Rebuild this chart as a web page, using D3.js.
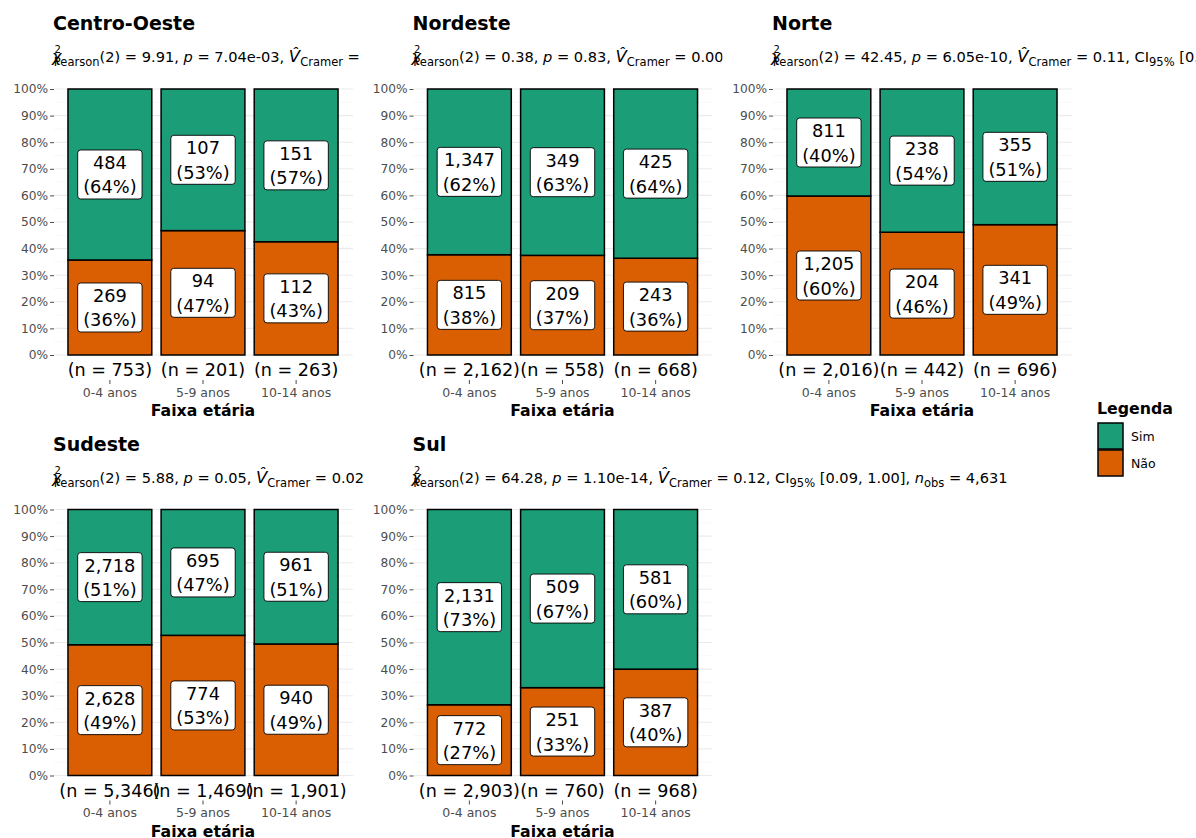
<!DOCTYPE html>
<html>
<head>
<meta charset="utf-8">
<title>Faixa etária por região</title>
<script src="https://d3js.org/d3.v7.min.js"></script>
<style>
  body { margin: 0; background: #fff; }
  svg { font-family: "DejaVu Sans", sans-serif; }
</style>
</head>
<body>
<div id="chart"></div>
<script>
  // data
  const regions = ['Centro-Oeste', 'Nordeste', 'Norte', 'Sudeste', 'Sul'];
  const ageGroups = ['0-4 anos', '5-9 anos', '10-14 anos'];
  const simCounts = [
    [484, 107, 151],
    [1347, 349, 425],
    [811, 238, 355],
    [2718, 695, 961],
    [2131, 509, 581]
  ];
  const naoCounts = [
    [269, 94, 112],
    [815, 209, 243],
    [1205, 204, 341],
    [2628, 774, 940],
    [772, 251, 387]
  ];
  // chi-square test results shown in the subtitles
  const chiValues = ['9.91', '0.38', '42.45', '5.88', '64.28'];
  const pValues = ['7.04e-03', '0.83', '6.05e-10', '0.05', '1.10e-14'];
  const cramerV = ['0.08', '0.00', '0.11', '0.02', '0.12'];
  const ciLow = ['0.03', '0.00', '0.08', '0.00', '0.09'];
  const yTicks = [0, 0.1, 0.2, 0.3, 0.4, 0.5, 0.6, 0.7, 0.8, 0.9, 1];
  const legendKeys = ['Sim', 'Não'];
  const colors = { 'Sim': '#1b9e77', 'Não': '#d95f02' };

  const W = 1196, H = 838;
  const svg = d3.select('#chart').append('svg')
    .attr('width', W).attr('height', H);

  const fmt = d3.format(',');

  regions.forEach(function(region, i) {
    const col = i % 3, row = Math.floor(i / 3);
    const ox = col * 359.5, oy = row * 420.5;
    const g = svg.append('g').attr('transform', 'translate(' + ox + ',' + oy + ')');

    // subtitle gets cut at the panel edge (except where nothing is to the right)
    const clipId = 'clip' + i;
    svg.append('clipPath').attr('id', clipId)
      .append('rect').attr('x', ox).attr('y', oy)
      .attr('width', (i === 4 || col === 2) ? 800 : 363).attr('height', 80);

    const x = d3.scaleBand().domain(ageGroups).range([54, 352]).paddingInner(0.1).paddingOuter(0.15);
    const y = d3.scaleLinear().domain([0, 1]).range([355, 89]);

    // title
    g.append('text').attr('x', 53).attr('y', 30)
      .attr('font-size', 19).attr('font-weight', 'bold').text(region);

    // subtitle
    const nobs = d3.sum(simCounts[i]) + d3.sum(naoCounts[i]);
    const sub = svg.append('g').attr('clip-path', 'url(#' + clipId + ')')
      .append('text').attr('x', ox + 52).attr('y', oy + 62).attr('font-size', 14.6);
    sub.append('tspan').attr('font-style', 'italic').attr('font-size', 16).text('χ');
    sub.append('tspan').attr('font-size', 10).attr('dx', -7).attr('dy', -9).text('2');
    sub.append('tspan').attr('font-size', 11.5).attr('dx', -7).attr('dy', 13).text('Pearson');
    sub.append('tspan').attr('dy', -4).text('(2) = ' + chiValues[i] + ', ');
    sub.append('tspan').attr('font-style', 'italic').text('p');
    sub.append('tspan').text(' = ' + pValues[i] + ', ');
    sub.append('tspan').attr('font-style', 'italic').attr('font-size', 16.5).text('V\u0302');
    sub.append('tspan').attr('font-size', 11.5).attr('dy', 4).text('Cramer');
    sub.append('tspan').attr('dy', -4).text(' = ' + cramerV[i] + ', CI');
    sub.append('tspan').attr('font-size', 11.5).attr('dy', 4).text('95%');
    sub.append('tspan').attr('dy', -4).text(' [' + ciLow[i] + ', 1.00], ');
    sub.append('tspan').attr('font-style', 'italic').text('n');
    sub.append('tspan').attr('font-size', 11.5).attr('dy', 4).text('obs');
    sub.append('tspan').attr('dy', -4).text(' = ' + fmt(nobs));

    // grid
    const minor = d3.range(0.05, 1.0, 0.1);
    g.selectAll('.minor').data(minor).enter().append('line')
      .attr('x1', 54).attr('x2', 353)
      .attr('y1', d => y(d)).attr('y2', d => y(d))
      .attr('stroke', '#f2f2f2').attr('stroke-width', 0.6);
    g.selectAll('.major').data(yTicks).enter().append('line')
      .attr('x1', 54).attr('x2', 353)
      .attr('y1', d => y(d)).attr('y2', d => y(d))
      .attr('stroke', '#ebebeb').attr('stroke-width', 1.1);

    // y axis
    const yAxis = g.append('g').attr('transform', 'translate(54,0)')
      .call(d3.axisLeft(y).tickValues(yTicks).tickFormat(d3.format('.0%')).tickSize(4).tickPadding(2));
    yAxis.select('.domain').remove();
    yAxis.selectAll('line').attr('stroke', '#4d4d4d');
    yAxis.selectAll('text').attr('fill', '#4d4d4d').attr('font-size', 12.2)
      .attr('font-family', '"DejaVu Sans", sans-serif');

    // bars
    const rows = ageGroups.map(function(a, j) {
      const n = simCounts[i][j] + naoCounts[i][j];
      return { age: a, n: n, nao: naoCounts[i][j], sim: simCounts[i][j] };
    });
    const segs = [];
    rows.forEach(function(r) {
      segs.push({ age: r.age, key: 'Não', count: r.nao, y0: 0, y1: r.nao / r.n });
      segs.push({ age: r.age, key: 'Sim', count: r.sim, y0: r.nao / r.n, y1: 1 });
    });
    g.selectAll('.seg').data(segs).enter().append('rect')
      .attr('x', d => x(d.age))
      .attr('width', x.bandwidth())
      .attr('y', d => y(d.y1))
      .attr('height', d => y(d.y0) - y(d.y1))
      .attr('fill', d => colors[d.key])
      .attr('stroke', '#000').attr('stroke-width', 1.5);

    // labels
    segs.forEach(function(d) {
      const cx = x(d.age) + x.bandwidth() / 2;
      const cy = (y(d.y0) + y(d.y1)) / 2;
      const pct = Math.round((d.y1 - d.y0) * 100);
      const lg = g.append('g');
      const box = lg.append('rect');
      const t1 = lg.append('text').attr('x', cx).attr('y', cy - 5.5)
        .attr('text-anchor', 'middle').attr('font-size', 17.8).text(fmt(d.count));
      const t2 = lg.append('text').attr('x', cx).attr('y', cy + 19)
        .attr('text-anchor', 'middle').attr('font-size', 17.8).text('(' + pct + '%)');
      const w = Math.max(t1.node().getComputedTextLength(), t2.node().getComputedTextLength()) + 11;
      box.attr('x', cx - w / 2).attr('y', cy - 24.5).attr('width', w).attr('height', 49)
        .attr('rx', 3).attr('fill', '#fff').attr('stroke', '#000').attr('stroke-width', 0.9);
    });

    // n labels
    g.selectAll('.nlab').data(rows).enter().append('text')
      .attr('x', d => x(d.age) + x.bandwidth() / 2)
      .attr('y', 376)
      .attr('text-anchor', 'middle').attr('font-size', 17.6)
      .text(d => '(n = ' + fmt(d.n) + ')');

    // x axis
    const xAxis = g.append('g').attr('transform', 'translate(0,380)')
      .call(d3.axisBottom(x).tickSize(4).tickPadding(4));
    xAxis.select('.domain').remove();
    xAxis.selectAll('line').attr('stroke', '#4d4d4d');
    xAxis.selectAll('text').attr('fill', '#4d4d4d').attr('font-size', 12.5)
      .attr('font-family', '"DejaVu Sans", sans-serif');

    g.append('text').attr('x', 203).attr('y', 416)
      .attr('text-anchor', 'middle').attr('font-size', 15.7).attr('font-weight', 'bold')
      .text('Faixa etária');
  });

  // legend
  const leg = svg.append('g');
  leg.append('text').attr('x', 1097).attr('y', 414)
    .attr('font-size', 15.8).attr('font-weight', 'bold').text('Legenda');
  legendKeys.forEach(function(k, j) {
    leg.append('rect').attr('x', 1098).attr('y', 423 + j * 27)
      .attr('width', 25).attr('height', 26)
      .attr('fill', colors[k]).attr('stroke', '#000').attr('stroke-width', 1.5);
    leg.append('text').attr('x', 1131).attr('y', 441 + j * 27)
      .attr('font-size', 12.5).text(k);
  });
</script>
</body>
</html>
